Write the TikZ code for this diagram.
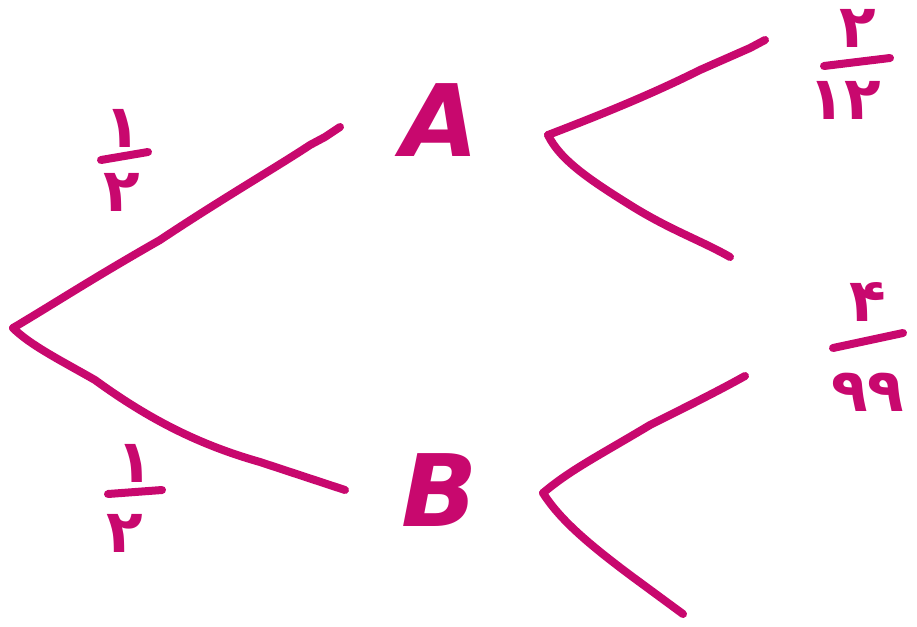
\documentclass[tikz,border=0pt]{standalone}
\usepackage{fontspec}
\newfontfamily\fa[Script=Arabic]{DejaVu Sans}
\newfontfamily\hand{DejaVu Sans}
\definecolor{ink}{RGB}{200,8,110}
\begin{document}
\begin{tikzpicture}[x=1pt,y=-1pt,
  stroke/.style={draw=ink,line width=8pt,line cap=round,line join=round},
  letter/.style={text=ink,font=\hand\bfseries\itshape\fontsize{100}{100}\selectfont,inner sep=0pt},
  digit/.style={text=ink,font=\fa\bfseries\fontsize{60}{60}\selectfont,inner sep=0pt},
  bar/.style={draw=ink,line width=8pt,line cap=round}]
\useasboundingbox (0,0) rectangle (917,626);
% nodes
\coordinate (root) at (13,328);
\node[letter] (A) at (440,120) {A};
\node[letter] (B) at (440,490) {B};
\coordinate (Aout) at (548,135);
\coordinate (Bout) at (543,493);
\coordinate (A1) at (765,40);
\coordinate (A2) at (730,257);
\coordinate (B1) at (745,376);
\coordinate (B2) at (683,614);
\coordinate (Ain) at (340,127);
\coordinate (Bin) at (345,490);
% branches
\draw[stroke] (root) .. controls (60,300) and (90,280) .. (160,240)
  .. controls (220,200) and (280,165) .. (310,145) -- (325,137) -- (Ain);
\draw[stroke] (root) .. controls (30,345) and (60,360) .. (95,380)
  .. controls (150,420) and (200,445) .. (260,462) -- (Bin);
\draw[stroke] (Aout) .. controls (600,115) and (650,95) .. (700,70) -- (750,48) -- (A1);
\draw[stroke] (Aout) .. controls (560,160) and (590,180) .. (630,205)
  .. controls (670,230) and (700,240) .. (A2);
\draw[stroke] (Bout) .. controls (570,470) and (600,455) .. (650,425)
  .. controls (690,405) and (720,390) .. (B1);
\draw[stroke] (Bout) .. controls (560,520) and (590,545) .. (630,575) -- (B2);
% fractions
\node[digit] (f1n) at (123,128) {۱};
\draw[bar] (101,160) -- (148,152);
\node[digit] (f1d) at (122,192) {۲};
\node[digit] (f2n) at (135,463) {۱};
\draw[bar] (108,494) -- (162,490);
\node[digit] (f2d) at (125,533) {۲};
\node[digit] (f3n) at (858,28) {۲};
\draw[bar] (824,66) -- (890,58);
\node[digit] (f3d) at (845,100) {۱۲};
\node[digit] (f4n) at (868,302) {۴};
\draw[bar] (833,348) -- (903,333);
\node[digit] (f4d) at (868,392) {۹۹};
\end{tikzpicture}
\end{document}
